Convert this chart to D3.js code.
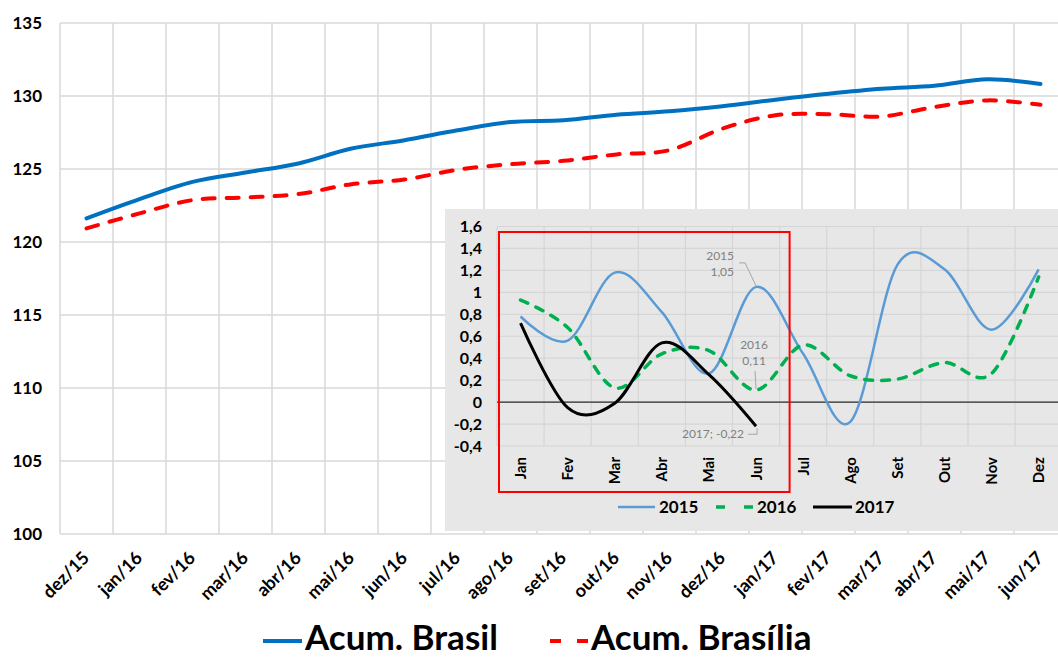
<!DOCTYPE html>
<html>
<head>
<meta charset="utf-8">
<script src="https://cdn.jsdelivr.net/npm/d3@7"></script>
<style>
	body { margin: 0; background: #fff; }
	svg { display: block; font-family: Lato, 'Noto Sans', sans-serif; }
</style>
</head>
<body>
<div id="app"></div>
<script>
'use strict'

// Acumulado (índice) - gráfico principal
const meses = ['dez/15', 'jan/16', 'fev/16', 'mar/16', 'abr/16', 'mai/16', 'jun/16', 'jul/16', 'ago/16', 'set/16',
	'out/16', 'nov/16', 'dez/16', 'jan/17', 'fev/17', 'mar/17', 'abr/17', 'mai/17', 'jun/17']
const acumBrasil = [121.62, 122.94, 124.12, 124.76, 125.38, 126.4, 126.97, 127.65, 128.22, 128.34,
	128.72, 128.95, 129.3, 129.75, 130.16, 130.5, 130.7, 131.14, 130.82]
const acumBrasilia = [120.93, 121.96, 122.87, 123.05, 123.28, 123.96, 124.28, 124.95, 125.33, 125.56,
	126.0, 126.29, 127.77, 128.68, 128.75, 128.6, 129.25, 129.7, 129.4]
const yTicksMain = [100, 105, 110, 115, 120, 125, 130, 135]

// Variação mensal - gráfico menor
const mesesInset = ['Jan', 'Fev', 'Mar', 'Abr', 'Mai', 'Jun', 'Jul', 'Ago', 'Set', 'Out', 'Nov', 'Dez']
const var2015 = [0.78, 0.56, 1.18, 0.82, 0.26, 1.05, 0.44, -0.18, 1.25, 1.21, 0.66, 1.21]
const var2016 = [0.93, 0.68, 0.13, 0.44, 0.47, 0.11, 0.52, 0.24, 0.21, 0.36, 0.26, 1.14]
const var2017 = [0.72, -0.05, -0.01, 0.54, 0.25, -0.22]
const yTicksInset = [-0.4, -0.2, 0, 0.2, 0.4, 0.6, 0.8, 1, 1.2, 1.4, 1.6]

const pt = d3.formatLocale({ decimal: ',', thousands: '.', grouping: [3], currency: ['R$', ''], minus: '-' })
const fmtTick = pt.format('.1~f')
const fmt2 = pt.format('.2f')

const W = 1058, H = 657
const svg = d3.select('#app').append('svg')
	.attr('width', W)
	.attr('height', H)

/*
 * Gráfico principal
 */
const x = d3.scaleBand()
	.domain(meses)
	.range([60, 60 + meses.length * 53])
const y = d3.scaleLinear()
	.domain([100, 135])
	.range([534, 23])
const cx = m => x(m) + x.bandwidth() / 2

const main = svg.append('g')

main.append('g').selectAll('line')
	.data(yTicksMain)
	.enter().append('line')
	.attr('x1', x.range()[0]).attr('x2', x.range()[1])
	.attr('y1', d => y(d)).attr('y2', d => y(d))
	.style('stroke', '#d9d9d9').style('stroke-width', 1.5)

main.append('g').selectAll('line')
	.data(meses.map(m => x(m)).concat([x.range()[1]]))
	.enter().append('line')
	.attr('x1', d => d).attr('x2', d => d)
	.attr('y1', y(135)).attr('y2', y(100))
	.style('stroke', '#d9d9d9').style('stroke-width', 1.5)

main.append('g').selectAll('text')
	.data(yTicksMain)
	.enter().append('text')
	.attr('x', 42)
	.attr('y', d => y(d))
	.attr('dy', '0.36em')
	.attr('text-anchor', 'end')
	.style('font-size', '17px').style('font-weight', 700).style('fill', '#000')
	.text(d => d)

main.append('g').selectAll('text')
	.data(meses)
	.enter().append('text')
	.attr('transform', d => `translate(${cx(d) + 4}, 559) rotate(-45)`)
	.attr('text-anchor', 'end')
	.style('font-size', '18px').style('font-weight', 700).style('fill', '#000')
	.text(d => d)

const lineMain = d3.line()
	.x((d, i) => cx(meses[i]))
	.y(d => y(d))
	.curve(d3.curveCatmullRom.alpha(0))

main.append('path')
	.datum(acumBrasilia)
	.attr('d', lineMain)
	.style('fill', 'none').style('stroke', '#ff0000').style('stroke-width', 4)
	.style('stroke-dasharray', '12,12').style('stroke-linecap', 'round')

main.append('path')
	.datum(acumBrasil)
	.attr('d', lineMain)
	.style('fill', 'none').style('stroke', '#0070c0').style('stroke-width', 4)
	.style('stroke-linecap', 'round')

/*
 * Legenda principal
 */
const legMain = svg.append('g').style('font-size', '35px').style('font-weight', 700)
legMain.append('line')
	.attr('x1', 263).attr('x2', 302).attr('y1', 641).attr('y2', 641)
	.style('stroke', '#0070c0').style('stroke-width', 4)
legMain.append('text').attr('x', 305).attr('y', 650).text('Acum. Brasil')
legMain.append('line')
	.attr('x1', 550).attr('x2', 588).attr('y1', 641).attr('y2', 641)
	.style('stroke', '#ff0000').style('stroke-width', 4)
	.style('stroke-dasharray', '11,16')
legMain.append('text').attr('x', 591).attr('y', 650).text('Acum. Brasília')

/*
 * Gráfico menor (variação mensal)
 */
const inset = svg.append('g')
inset.append('rect')
	.attr('x', 445).attr('y', 209)
	.attr('width', W - 445).attr('height', 322)
	.style('fill', '#e7e7e7')

const xi = d3.scaleBand()
	.domain(mesesInset)
	.range([497, 497 + mesesInset.length * 47.1])
const yi = d3.scaleLinear()
	.domain([-0.4, 1.6])
	.range([446, 226.5])
const cxi = m => xi(m) + xi.bandwidth() / 2

inset.append('g').selectAll('line')
	.data(yTicksInset)
	.enter().append('line')
	.attr('x1', xi.range()[0]).attr('x2', xi.range()[1])
	.attr('y1', d => yi(d)).attr('y2', d => yi(d))
	.style('stroke', '#d6d6d6').style('stroke-width', 1.2)

inset.append('g').selectAll('line')
	.data(mesesInset.map(m => xi(m)).concat([xi.range()[1]]))
	.enter().append('line')
	.attr('x1', d => d).attr('x2', d => d)
	.attr('y1', yi(1.6)).attr('y2', yi(-0.4))
	.style('stroke', '#d6d6d6').style('stroke-width', 1.2)

inset.append('line')
	.attr('x1', xi.range()[0]).attr('x2', xi.range()[1])
	.attr('y1', yi(0)).attr('y2', yi(0))
	.style('stroke', '#000').style('stroke-width', 1)

inset.append('g').selectAll('text')
	.data(yTicksInset)
	.enter().append('text')
	.attr('x', 482)
	.attr('y', d => yi(d))
	.attr('dy', '0.36em')
	.attr('text-anchor', 'end')
	.style('font-size', '16px').style('font-weight', 700).style('fill', '#000')
	.text(d => fmtTick(d))

inset.append('g').selectAll('text')
	.data(mesesInset)
	.enter().append('text')
	.attr('transform', d => `translate(${cxi(d) + 5.5}, 457) rotate(-90)`)
	.attr('text-anchor', 'end')
	.style('font-size', '15px').style('font-weight', 700).style('fill', '#000')
	.text(d => d)

const lineInset = d3.line()
	.x((d, i) => cxi(mesesInset[i]))
	.y(d => yi(d))
	.curve(d3.curveCatmullRom.alpha(0))

inset.append('path')
	.datum(var2015)
	.attr('d', lineInset)
	.style('fill', 'none').style('stroke', '#5b9bd5').style('stroke-width', 2.5)

inset.append('path')
	.datum(var2016)
	.attr('d', lineInset)
	.style('fill', 'none').style('stroke', '#00b050').style('stroke-width', 3.5)
	.style('stroke-dasharray', '8,9').style('stroke-linecap', 'round')

inset.append('path')
	.datum(var2017)
	.attr('d', lineInset)
	.style('fill', 'none').style('stroke', '#000').style('stroke-width', 3)

// destaque do 1º semestre
inset.append('rect')
	.attr('x', xi('Jan') + 2).attr('y', 232)
	.attr('width', xi('Jul') + 10 - xi('Jan') - 2).attr('height', 260)
	.style('fill', 'none').style('stroke', '#ff0000').style('stroke-width', 2)

/*
 * Rótulos de dados (Jun)
 */
const jx = cxi('Jun')
const lab = inset.append('g')
	.style('font-size', '12px').style('fill', '#7f7f7f')
const leader = pts => lab.append('path')
	.attr('d', d3.line()(pts))
	.style('fill', 'none').style('stroke', '#a6a6a6').style('stroke-width', 1)

const y15 = yi(var2015[5])
lab.append('text').attr('x', jx - 22).attr('y', y15 - 27).attr('text-anchor', 'end').text('2015')
lab.append('text').attr('x', jx - 22).attr('y', y15 - 11).attr('text-anchor', 'end').text(fmt2(var2015[5]))
leader([[jx - 17, y15 - 24], [jx - 11, y15 - 24], [jx, y15 - 1]])

const y16 = yi(var2016[5])
lab.append('text').attr('x', jx - 2).attr('y', y16 - 41).attr('text-anchor', 'middle').text('2016')
lab.append('text').attr('x', jx - 2).attr('y', y16 - 25).attr('text-anchor', 'middle').text(fmt2(var2016[5]))
leader([[jx - 1, y16 - 19], [jx, y16 - 1]])

const y17 = yi(var2017[5])
lab.append('text').attr('x', jx - 12).attr('y', y17 + 12).attr('text-anchor', 'end')
	.text(`2017; ${fmt2(var2017[5])}`)
leader([[jx - 8, y17 + 8], [jx + 1, y17 + 8], [jx + 1, y17 + 2]])

/*
 * Legenda do gráfico menor
 */
const legIn = inset.append('g').style('font-size', '17px').style('font-weight', 700)
legIn.append('line').attr('x1', 618).attr('x2', 655).attr('y1', 507).attr('y2', 507)
	.style('stroke', '#5b9bd5').style('stroke-width', 2.5)
legIn.append('text').attr('x', 659).attr('y', 513).text('2015')
legIn.append('line').attr('x1', 716).attr('x2', 753).attr('y1', 507).attr('y2', 507)
	.style('stroke', '#00b050').style('stroke-width', 3.5).style('stroke-dasharray', '9,19')
legIn.append('text').attr('x', 757).attr('y', 513).text('2016')
legIn.append('line').attr('x1', 813).attr('x2', 852).attr('y1', 507).attr('y2', 507)
	.style('stroke', '#000').style('stroke-width', 3)
legIn.append('text').attr('x', 855).attr('y', 513).text('2017')
</script>
</body>
</html>
